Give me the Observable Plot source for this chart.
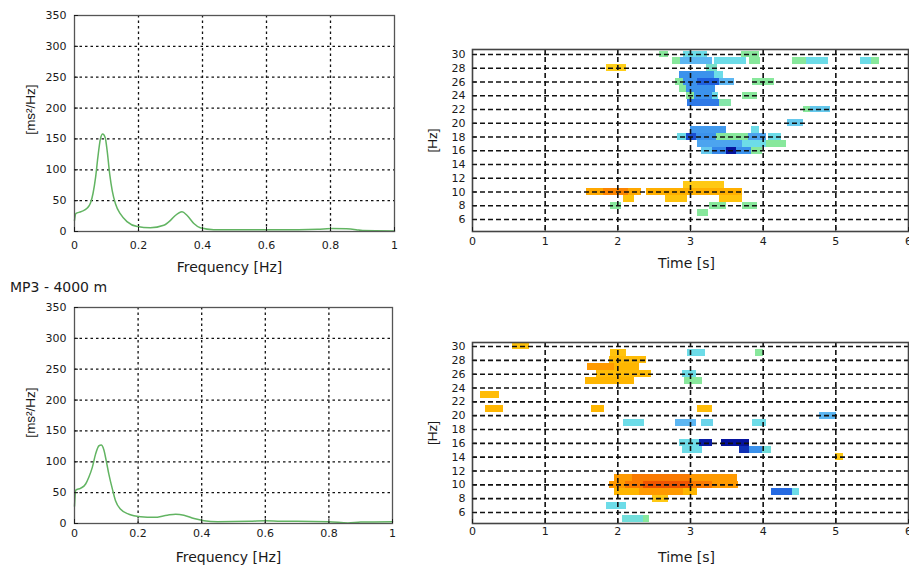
<!DOCTYPE html>
<html><head><meta charset="utf-8">
<script src="https://cdn.jsdelivr.net/npm/d3@7"></script>
<script src="https://cdn.jsdelivr.net/npm/@observablehq/plot@0.6"></script>
<style>
html,body{margin:0;padding:0;background:#fff;overflow:hidden;}
#wrap{position:relative;width:909px;height:570px;overflow:hidden;background:#fff;}
.panel{position:absolute;}
.panel svg{max-width:none !important;}
#caption{position:absolute;left:10px;top:279px;font-family:"DejaVu Sans",sans-serif;font-size:14px;color:#1a1a1a;white-space:nowrap;}
</style></head><body>
<div id="wrap">
  <div class="panel" id="tl" style="left:0;top:0;width:420px;height:280px"></div>
  <div class="panel" id="tr" style="left:420px;top:30px;width:500px;height:250px"></div>
  <div id="caption">MP3 - 4000 m</div>
  <div class="panel" id="bl" style="left:0;top:290px;width:420px;height:280px"></div>
  <div class="panel" id="br" style="left:420px;top:320px;width:500px;height:250px"></div>
</div>
<script>
// ---- tick labels ----
const freqTicks = [0, 0.2, 0.4, 0.6, 0.8, 1];
const psdTicks = [0, 50, 100, 150, 200, 250, 300, 350];
const timeTicks = [0, 1, 2, 3, 4, 5, 6];
const hzTicks = [6, 8, 10, 12, 14, 16, 18, 20, 22, 24, 26, 28, 30];

// ---- power spectral density (top panel) ----
const psdTopFreq = [0, 0.004, 0.02, 0.04, 0.05, 0.058, 0.066, 0.073, 0.081, 0.088, 0.096, 0.102, 0.11, 0.118, 0.128, 0.144, 0.164, 0.196, 0.237, 0.279, 0.3, 0.315, 0.336, 0.352, 0.373, 0.393, 0.435, 0.5, 0.6, 0.7, 0.76, 0.8, 0.85, 0.88, 0.9, 1.0];
const psdTopVal  = [18, 29, 32, 38, 46, 62, 88, 120, 150, 158, 152, 131, 93, 66, 45, 28, 16, 8, 6, 10, 18, 26, 32, 26, 13, 6, 3, 3, 3, 3, 3.5, 5, 4.5, 3, 1.5, 1];

// ---- power spectral density (MP3 - 4000 m) ----
const psdBotFreq = [0, 0.004, 0.019, 0.035, 0.045, 0.056, 0.066, 0.077, 0.084, 0.092, 0.1, 0.108, 0.119, 0.129, 0.145, 0.171, 0.208, 0.25, 0.292, 0.318, 0.344, 0.376, 0.407, 0.45, 0.55, 0.6, 0.65, 0.7, 0.8, 0.86, 0.9, 1.0];
const psdBotVal  = [28, 54, 57, 64, 75, 91, 112, 126, 127, 120, 101, 80, 56, 37, 23, 15, 11, 10, 13.5, 15, 13.5, 8, 4.5, 3, 3.5, 4.5, 3.5, 3.5, 3, 1, 2.5, 3];

// ---- time-frequency cells: [frequency Hz, time start s, time end s, value 0..1] ----
const tfTopCells = [
  [30,2.58,2.70,0.52],[30,2.90,3.23,0.40],[30,3.70,3.95,0.52],
  [29,2.75,2.86,0.52],[29,2.86,3.30,0.30],[29,3.33,3.77,0.40],[29,3.81,3.97,0.52],[29,4.41,4.59,0.52],[29,4.59,4.90,0.40],[29,5.34,5.49,0.40],[29,5.49,5.60,0.52],
  [28,1.84,2.12,0.68],[28,3.22,3.37,0.45],
  [27,2.85,3.33,0.20],[27,3.33,3.45,0.40],
  [26,2.80,2.90,0.52],[26,2.90,3.10,0.20],[26,3.10,3.40,0.10],[26,3.40,3.60,0.30],[26,3.85,4.15,0.52],
  [25,2.85,2.95,0.52],[25,2.95,3.35,0.20],
  [24,2.95,3.05,0.52],[24,3.05,3.30,0.20],[24,3.30,3.38,0.40],[24,3.72,3.92,0.52],
  [23,2.96,3.40,0.15],[23,3.40,3.56,0.50],
  [22,4.56,4.65,0.52],[22,4.65,4.93,0.35],
  [20,4.33,4.56,0.35],
  [19,3.00,3.50,0.22],[19,3.84,3.95,0.40],
  [18,2.82,2.95,0.40],[18,2.95,3.08,0.08],[18,3.08,3.36,0.20],[18,3.36,3.80,0.52],[18,3.80,4.04,0.25],[18,4.08,4.25,0.40],
  [17,3.10,3.71,0.25],[17,3.71,4.04,0.40],[17,4.04,4.32,0.52],
  [16,3.15,3.30,0.35],[16,3.30,3.50,0.18],[16,3.50,3.63,0.02],[16,3.63,3.84,0.20],[16,3.84,3.99,0.52],
  [11,2.90,3.47,0.70],
  [10,1.57,1.80,0.80],[10,1.80,2.15,0.88],[10,2.15,2.33,0.80],[10,2.39,3.71,0.78],
  [9,2.08,2.23,0.72],[9,2.66,2.96,0.72],[9,3.40,3.71,0.72],
  [8,1.90,2.05,0.52],[8,3.26,3.50,0.52],[8,3.71,3.92,0.52],
  [7,3.10,3.25,0.52]
];
const tfBotCells = [
  [30,0.55,0.78,0.72],
  [29,1.90,2.12,0.72],[29,2.96,3.20,0.40],[29,3.90,4.00,0.52],
  [28,1.88,2.40,0.74],
  [27,1.58,1.95,0.84],[27,1.95,2.30,0.76],
  [26,1.71,2.46,0.74],[26,2.89,3.08,0.40],
  [25,1.56,2.23,0.76],[25,2.92,3.16,0.52],
  [23,0.11,0.37,0.74],
  [21,0.18,0.42,0.76],[21,1.64,1.81,0.76],[21,3.10,3.30,0.74],
  [20,4.78,5.01,0.30],
  [19,2.08,2.37,0.40],[19,2.80,3.08,0.30],[19,3.15,3.32,0.38],[19,3.85,4.05,0.40],
  [16,2.85,3.12,0.40],[16,3.12,3.30,0.03],[16,3.42,3.81,0.02],
  [15,2.89,3.16,0.40],[15,3.68,3.81,0.05],[15,3.81,3.99,0.20],[15,3.99,4.11,0.42],
  [14,5.00,5.11,0.70],
  [11,1.96,2.20,0.84],[11,2.20,3.00,0.90],[11,3.00,3.64,0.84],
  [10,1.89,2.10,0.84],[10,2.10,2.35,0.90],[10,2.35,3.00,0.97],[10,3.00,3.30,0.90],[10,3.30,3.66,0.84],
  [9,1.96,2.30,0.76],[9,2.30,2.90,0.84],[9,2.90,3.10,0.76],[9,4.11,4.40,0.12],[9,4.40,4.50,0.40],
  [8,2.48,2.70,0.70],
  [7,1.85,2.12,0.40],
  [5,2.07,2.35,0.42],[5,2.35,2.44,0.52]
];

// ---- jet-like palette ----
const jetStops = [0, 0.1, 0.2, 0.3, 0.4, 0.52, 0.68, 0.76, 0.84, 0.9, 0.97, 1];
const jetColors = ["#00008c","#2060e0","#3b92ec","#5cb6f2","#6ddce8","#88e89c","#ffcf1a","#ffb600","#ff9a00","#fa7a00","#ef5500","#e04a00"];
const jetScale = d3.scaleLinear().domain(jetStops).range(jetColors).interpolate(d3.interpolateRgb).clamp(true);
const jet = t => jetScale(t);

const FONT = "DejaVu Sans";
const baseStyle = {fontFamily: FONT, fontSize: "11px", color: "#1a1a1a", background: "transparent", overflow: "visible", maxWidth: "none"};
const fmt = d => String(d);

function psdPlot(freq, vals, o) {
  const data = freq.map((f, i) => ({f, v: vals[i]}));
  return Plot.plot({
    width: 420, height: 280,
    marginLeft: 74, marginRight: o.marginRight, marginTop: o.marginTop, marginBottom: o.marginBottom,
    style: baseStyle,
    x: {domain: [0, 1], label: null},
    y: {domain: [0, 350], label: null},
    marks: [
      Plot.gridX(freqTicks.filter(t => t > 0 && t < 1), {stroke: "#111", strokeOpacity: 1, strokeWidth: 1.3, strokeDasharray: "2.5,3"}),
      Plot.gridY(psdTicks.filter(t => t > 0 && t < 350), {stroke: "#111", strokeOpacity: 1, strokeWidth: 1.3, strokeDasharray: "2.5,3"}),
      Plot.line(data, {x: "f", y: "v", stroke: "#62b462", strokeWidth: 1.5, curve: "monotone-x"}),
      Plot.frame({stroke: "#555", strokeWidth: 1.3}),
      Plot.axisX(freqTicks, {label: null, tickSize: -4, tickPadding: o.xPad, tickFormat: fmt}),
      Plot.axisY(psdTicks, {label: null, tickSize: -4, tickPadding: 12, tickFormat: fmt}),
      Plot.text(["Frequency [Hz]"], {text: d => d, frameAnchor: "bottom", dy: o.xLabelDy, dx: -5, fontSize: 14, lineAnchor: "middle"}),
      Plot.text(["[ms²/Hz]"], {text: d => d, frameAnchor: "left", rotate: -90, dx: -44, dy: o.yLabelDy, fontSize: 13.5, fontFamily: "Liberation Sans", lineAnchor: "middle", textAnchor: "middle"})
    ]
  });
}

function tfPlot(cells, o) {
  return Plot.plot({
    width: 500, height: 250,
    marginLeft: 52, marginRight: 12, marginTop: o.marginTop, marginBottom: o.marginBottom,
    style: baseStyle,
    x: {domain: [0, 6], label: null},
    y: {domain: o.yDomain, label: null},
    color: {type: "linear", domain: [0, 1], interpolate: jet},
    marks: [
      Plot.rect(cells, {x1: d => d[1], x2: d => d[2], y1: d => d[0] - 0.5, y2: d => d[0] + 0.5, fill: d => d[3], shapeRendering: "crispEdges"}),
      Plot.gridX([1, 2, 3, 4, 5], {stroke: "#111", strokeOpacity: 1, strokeWidth: 1.6, strokeDasharray: "5,3"}),
      Plot.gridY(hzTicks, {stroke: "#111", strokeOpacity: 1, strokeWidth: 1.6, strokeDasharray: "5,3"}),
      Plot.frame({stroke: "#444", strokeWidth: 1.6}),
      Plot.axisX(timeTicks, {label: null, tickSize: -4, tickPadding: o.xPad, tickFormat: fmt}),
      Plot.axisY(hzTicks, {label: null, tickSize: -4, tickPadding: 11, tickFormat: fmt}),
      Plot.text(["Time [s]"], {text: d => d, frameAnchor: "bottom", dy: o.xLabelDy, dx: -4, fontSize: 14, lineAnchor: "middle"}),
      Plot.text(["[Hz]"], {text: d => d, frameAnchor: "left", rotate: -90, dx: -40, dy: 0, fontSize: 13.5, fontFamily: "Liberation Sans", lineAnchor: "middle", textAnchor: "middle"})
    ]
  });
}

document.getElementById("tl").append(psdPlot(psdTopFreq, psdTopVal, {marginTop: 15, marginBottom: 49, marginRight: 26, xPad: 14, xLabelDy: 36, yLabelDy: -14}));
document.getElementById("bl").append(psdPlot(psdBotFreq, psdBotVal, {marginTop: 17, marginBottom: 47, marginRight: 28, xPad: 10, xLabelDy: 34, yLabelDy: -3}));
document.getElementById("tr").append(tfPlot(tfTopCells, {marginTop: 19, marginBottom: 49, yDomain: [4.25, 30.73], xPad: 10, xLabelDy: 32}));
document.getElementById("br").append(tfPlot(tfBotCells, {marginTop: 22, marginBottom: 47, yDomain: [4.41, 30.58], xPad: 8, xLabelDy: 34}));
</script>
</body></html>
